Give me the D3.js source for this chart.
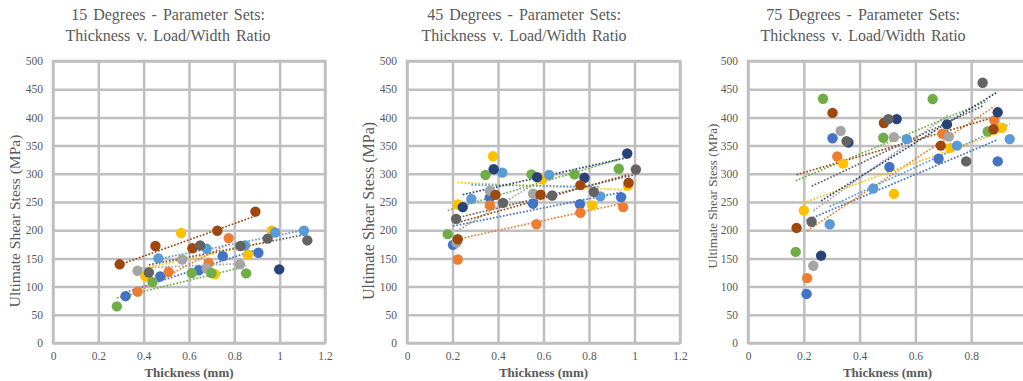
<!DOCTYPE html>
<html>
<head>
<meta charset="utf-8">
<script src="https://cdn.jsdelivr.net/npm/d3@7"></script>
<style>
  html, body { margin: 0; padding: 0; background: #fff; }
  svg { display: block; font-family: "Liberation Serif", "Times New Roman", serif; }
</style>
</head>
<body>
<div id="chart"></div>
<script>
// Series order follows the Excel default palette
const seriesNames = ["Set 1", "Set 2", "Set 3", "Set 4", "Set 5", "Set 6", "Set 7", "Set 8", "Set 9"];
const seriesColors = ["#4472C4", "#ED7D31", "#A5A5A5", "#FFC000", "#5B9BD5", "#70AD47", "#264478", "#9E480E", "#636363"];

const titles = ["15 Degrees - Parameter Sets:", "45 Degrees - Parameter Sets:", "75 Degrees - Parameter Sets:"];
const subtitle = "Thickness v. Load/Width Ratio";
const xLabel = "Thickness (mm)";
const yLabel = "Ultimate Shear Stess (MPa)";

const yTicks = [0, 50, 100, 150, 200, 250, 300, 350, 400, 450, 500];
const xTicksWide = [0, 0.2, 0.4, 0.6, 0.8, 1, 1.2];
const xTicksNarrow = [0, 0.2, 0.4, 0.6, 0.8, 1];

// 15 degrees: thickness (mm) and stress (MPa) per series
const thick15 = [
  [0.32, 0.473, 0.643, 0.749, 0.906],
  [0.373, 0.51, 0.686, 0.775],
  [0.373, 0.57, 0.678, 0.825],
  [0.408, 0.565, 0.714, 0.86, 0.965],
  [0.465, 0.678, 0.847, 0.98, 1.107],
  [0.282, 0.439, 0.612, 0.699, 0.852],
  [0.998],
  [0.294, 0.452, 0.615, 0.725, 0.893],
  [0.423, 0.649, 0.827, 0.947, 1.122]
];
const stress15 = [
  [83, 118, 129, 154, 160],
  [91, 126, 142, 186],
  [128, 148, 132, 139.5],
  [118, 195, 122, 157, 199],
  [150, 167, 173, 196, 199],
  [65, 108, 124, 124, 123.5],
  [130.6],
  [139.5, 172, 168, 199, 233],
  [125, 173, 172, 185, 182]
];

// 45 degrees
const thick45 = [
  [0.202, 0.364, 0.554, 0.76, 0.941],
  [0.223, 0.364, 0.569, 0.762, 0.95],
  [0.218, 0.365, 0.554],
  [0.223, 0.378, 0.594, 0.814, 0.971],
  [0.283, 0.419, 0.625, 0.85],
  [0.179, 0.345, 0.547, 0.736, 0.931],
  [0.245, 0.381, 0.572, 0.78, 0.968],
  [0.223, 0.389, 0.587, 0.762, 0.974],
  [0.216, 0.422, 0.638, 0.821, 1.006]
];
const stress45 = [
  [174, 258, 247, 246, 258.6],
  [148, 244, 210.6, 231, 241],
  [178, 270, 264.5],
  [245.6, 331, 290, 244, 279],
  [255.6, 302, 298, 260],
  [193, 298, 299, 299, 309],
  [241, 308, 294, 293, 336],
  [184, 262.7, 263, 280, 284],
  [220, 248.5, 261.5, 268, 307.7]
];

// 75 degrees
const thick75 = [
  [0.21, 0.303, 0.507, 0.683, 0.895],
  [0.212, 0.32, 0.697, 0.883],
  [0.234, 0.332, 0.523, 0.72],
  [0.2, 0.341, 0.523, 0.725, 0.91],
  [0.293, 0.449, 0.569, 0.749, 0.938],
  [0.171, 0.269, 0.485, 0.662, 0.859],
  [0.262, 0.36, 0.533, 0.713, 0.895],
  [0.174, 0.303, 0.487, 0.691, 0.88],
  [0.228, 0.353, 0.503, 0.782, 0.841]
];
const stress75 = [
  [87, 363, 312, 326.6, 322],
  [115, 330.7, 371, 394.7],
  [137, 376, 365, 366],
  [235, 318, 264.5, 346, 381.6],
  [210.6, 274, 361.5, 350, 361.5],
  [161.5, 433, 364, 432.5, 375],
  [155, 355.6, 397, 387.6, 409],
  [204, 408, 390, 350, 379],
  [215, 358, 397, 322, 461.5]
];

const W = 1023, H = 381;
const textColor = "#595959";
const gridColor = "#bfbfbf";

const panels = [
  { title: titles[0], xs: thick15, ys: stress15, xDomain: [0, 1.2], xTicks: xTicksWide,
    left: 53, right: 325, titleX: 168, yLabelX: 15, yLabelY: 221, yLabelSize: 15.5 },
  { title: titles[1], xs: thick45, ys: stress45, xDomain: [0, 1.2], xTicks: xTicksWide,
    left: 407, right: 680, titleX: 524, yLabelX: 368, yLabelY: 211, yLabelSize: 16 },
  { title: titles[2], xs: thick75, ys: stress75, xDomain: [0, 1], xTicks: xTicksNarrow,
    left: 748, right: 1027, titleX: 863, yLabelX: 712, yLabelY: 196, yLabelSize: 13 }
];
const plotTop = 61, plotBottom = 343;

// least squares fit, drawn between the min and max thickness like Excel's linear trendline
function linearFit(xs, ys) {
  const mx = d3.mean(xs), my = d3.mean(ys);
  const sxy = d3.sum(xs, (x, i) => (x - mx) * (ys[i] - my));
  const sxx = d3.sum(xs, x => (x - mx) * (x - mx));
  const slope = sxy / sxx;
  return x => my + slope * (x - mx);
}

const svg = d3.select("#chart").append("svg")
  .attr("width", W)
  .attr("height", H)
  .attr("viewBox", `0 0 ${W} ${H}`);

panels.forEach(p => {
  const g = svg.append("g");
  const x = d3.scaleLinear().domain(p.xDomain).range([p.left, p.right]);
  const y = d3.scaleLinear().domain([0, 500]).range([plotBottom, plotTop]);

  // Title
  const t = g.append("text")
    .attr("x", p.titleX)
    .attr("text-anchor", "middle")
    .attr("fill", textColor)
    .style("font-size", "16px");
  t.append("tspan").attr("x", p.titleX).attr("y", 20).style("word-spacing", "2px").text(p.title);
  t.append("tspan").attr("x", p.titleX).attr("y", 41).style("word-spacing", "2px").text(subtitle);

  // Horizontal grid + y tick labels
  const yAxis = g.append("g")
    .attr("transform", `translate(${p.left},0)`)
    .call(d3.axisLeft(y).tickValues(yTicks).tickSize(-(p.right - p.left)).tickPadding(10));
  // Vertical grid + x tick labels
  const xAxis = g.append("g")
    .attr("transform", `translate(0,${plotBottom})`)
    .call(d3.axisBottom(x).tickValues(p.xTicks).tickFormat(d3.format("")).tickSize(-(plotBottom - plotTop)).tickPadding(9));

  [yAxis, xAxis].forEach(a => {
    a.select(".domain").remove();
    a.selectAll(".tick line").attr("stroke", gridColor).attr("stroke-width", 2.5);
    a.selectAll(".tick text")
      .attr("fill", textColor)
      .style("font-family", "'Liberation Serif', 'Times New Roman', serif")
      .style("font-size", "11.5px");
  });

  // Plot border
  g.append("rect")
    .attr("x", p.left).attr("y", plotTop)
    .attr("width", p.right - p.left).attr("height", plotBottom - plotTop)
    .attr("fill", "none").attr("stroke", gridColor).attr("stroke-width", 2.5);

  // Axis titles
  g.append("text")
    .attr("x", (p.left + p.right) / 2)
    .attr("y", 377)
    .attr("text-anchor", "middle")
    .attr("fill", textColor)
    .style("font-size", "13px")
    .style("font-weight", "bold")
    .text(xLabel);

  g.append("text")
    .attr("transform", `translate(${p.yLabelX},${p.yLabelY}) rotate(-90)`)
    .attr("text-anchor", "middle")
    .attr("dy", "0.35em")
    .attr("fill", textColor)
    .style("font-size", p.yLabelSize + "px")
    .text(yLabel);

  // Trendlines
  seriesNames.forEach((name, i) => {
    const xs = p.xs[i], ys = p.ys[i];
    if (xs.length < 2) return;
    const f = linearFit(xs, ys);
    const ext = d3.extent(xs);
    g.append("line")
      .attr("x1", x(ext[0])).attr("y1", y(f(ext[0])))
      .attr("x2", x(ext[1])).attr("y2", y(f(ext[1])))
      .attr("stroke", seriesColors[i])
      .attr("stroke-width", 1.7)
      .attr("stroke-dasharray", "1.7 1.7");
  });

  // Points
  seriesNames.forEach((name, i) => {
    g.append("g")
      .selectAll("circle")
      .data(p.xs[i].map((v, j) => ({ t: v, s: p.ys[i][j] })))
      .enter()
      .append("circle")
      .attr("cx", d => x(d.t))
      .attr("cy", d => y(d.s))
      .attr("r", 5.2)
      .attr("fill", seriesColors[i]);
  });
});
</script>
</body>
</html>
